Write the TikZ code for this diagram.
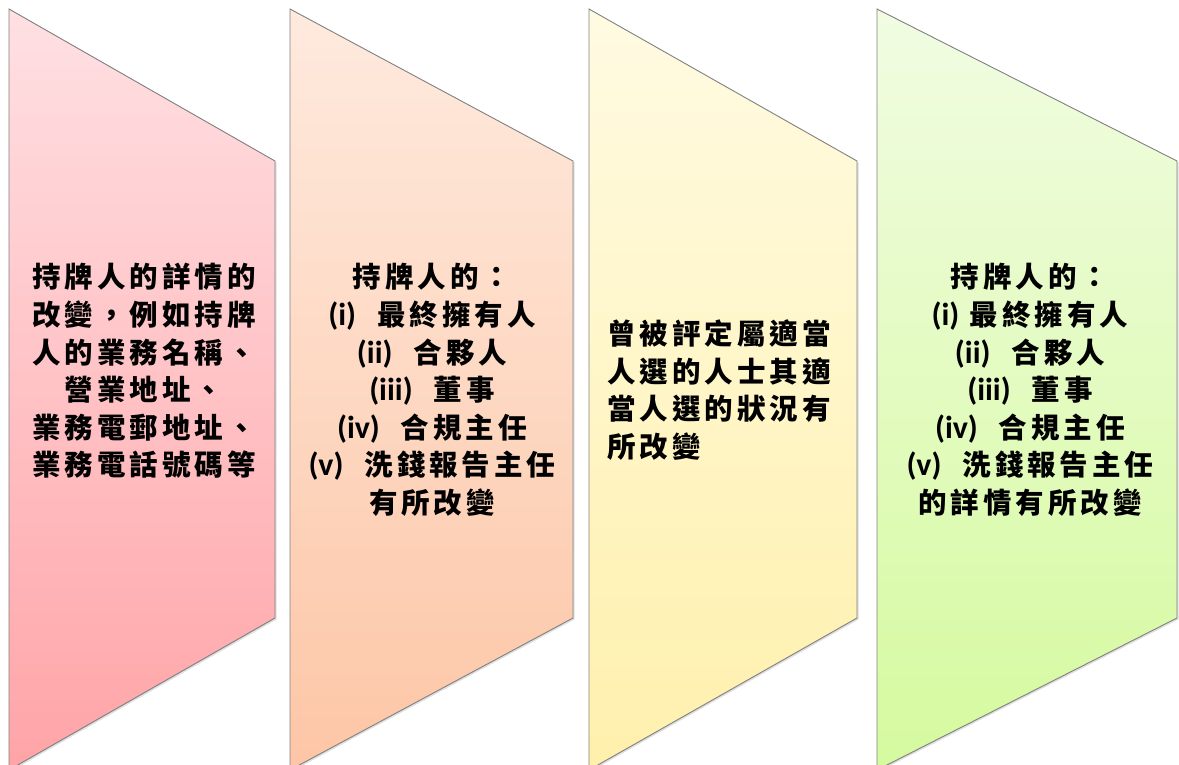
\documentclass[tikz,border=0pt]{standalone}
\usepackage{fontspec}
\usepackage{xcolor}
\usepackage{tikz}
\usetikzlibrary{shadows}

\newfontfamily\cjk[LetterSpace=14]{Noto Sans CJK TC}
\newfontfamily\latin[Scale=1.12]{Carlito}

\definecolor{pinkTop}{RGB}{255,224,227}
\definecolor{pinkBot}{RGB}{255,164,167}
\definecolor{peachTop}{RGB}{254,234,222}
\definecolor{peachBot}{RGB}{253,198,166}
\definecolor{creamTop}{RGB}{255,251,226}
\definecolor{creamBot}{RGB}{255,240,172}
\definecolor{limeTop}{RGB}{241,252,226}
\definecolor{limeBot}{RGB}{213,250,158}
\definecolor{edgeGray}{RGB}{128,128,128}

\tikzset{
    panelline/.style={draw=edgeGray, line width=0.9pt, line join=miter,
        drop shadow={opacity=0.25, shadow xshift=1.5pt, shadow yshift=-1.5pt}},
    paneltext/.style={font=\cjk\bfseries\fontsize{28.5}{37.6}\selectfont, inner sep=0pt}
}

\newcommand{\rn}[1]{{\latin\bfseries(#1)}}

\begin{document}
\begin{tikzpicture}[x=1pt, y=-1pt]

        \useasboundingbox (0,0) rectangle (1179,764);

        \newcommand\topY{9}
        \newcommand\kneeTop{161}
        \newcommand\kneeBot{618}
        \newcommand\botY{770}

        % Define panel properties

        \newcommand{\panel}[5]{
            \expandafter\def\csname panel#1LEFT\endcsname{#2}
            \expandafter\def\csname panel#1RIGHT\endcsname{#3}
            \expandafter\def\csname panel#1TOP\endcsname{#4}
            \expandafter\def\csname panel#1BOT\endcsname{#5}
        }

        \panel{0}{9}{275}{pinkTop}{pinkBot}
        \panel{1}{290}{573}{peachTop}{peachBot}
        \panel{2}{589}{857}{creamTop}{creamBot}
        \panel{3}{877}{1177}{limeTop}{limeBot}

        \foreach \p in {0,...,3}{
            \pgfmathsetmacro{\xl}{\csname panel\p LEFT\endcsname}
            \pgfmathsetmacro{\xr}{\csname panel\p RIGHT\endcsname}
            \edef\topcol{\csname panel\p TOP\endcsname}
            \edef\botcol{\csname panel\p BOT\endcsname}

            \draw[panelline, top color=\topcol, bottom color=\botcol]
                (\xl,\topY) -- (\xr,\kneeTop) -- (\xr,\kneeBot) -- (\xl,\botY) -- cycle;
        }

        % Panel texts
        \node[paneltext, align=center] (detail) at (144,371)
            {持牌人的詳情的\\改變，例如持牌\\人的業務名稱、\\營業地址、\\業務電郵地址、\\業務電話號碼等};
        \node[paneltext, align=center] (officer) at (432,390)
            {持牌人的：\\\rn{i}\ \ 最終擁有人\\\rn{ii}\ \ 合夥人\\\rn{iii}\ \ 董事\\\rn{iv}\ \ 合規主任\\\rn{v}\ \ 洗錢報告主任\\有所改變};
        \node[paneltext, align=left, anchor=west] (fitness) at (607,390)
            {曾被評定屬適當\\人選的人士其適\\當人選的狀況有\\所改變};
        \node[paneltext, align=center] (officerb) at (1030,390)
            {持牌人的：\\\rn{i} 最終擁有人\\\rn{ii}\ \ 合夥人\\\rn{iii}\ \ 董事\\\rn{iv}\ \ 合規主任\\\rn{v}\ \ 洗錢報告主任\\的詳情有所改變};

\end{tikzpicture}
\end{document}
